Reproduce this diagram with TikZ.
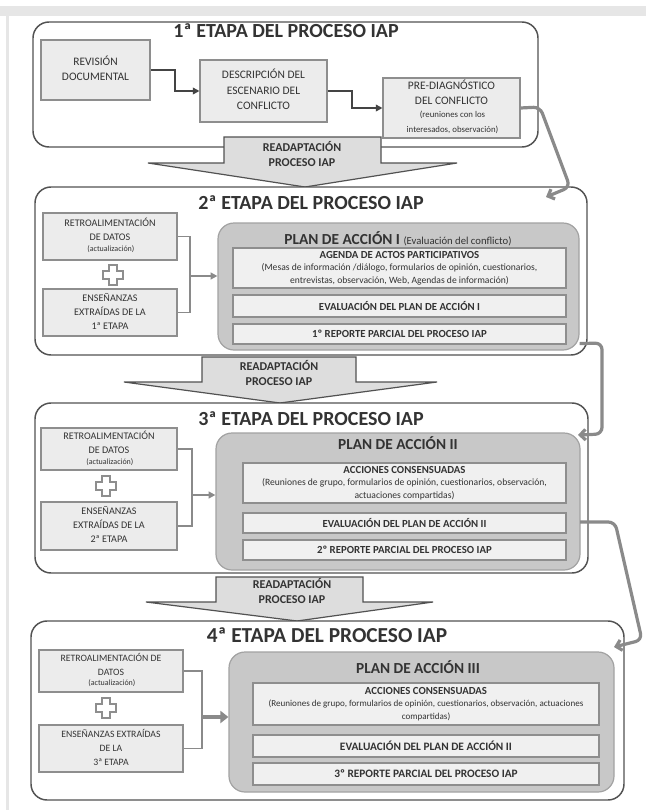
\documentclass[tikz,border=0pt]{standalone}
\usepackage{fontspec}
\setmainfont{Carlito}
\usetikzlibrary{arrows.meta,fit,calc}
\definecolor{stageline}{HTML}{525252}
\definecolor{boxfill}{HTML}{ECECEC}
\definecolor{boxline}{HTML}{8E8E8E}
\definecolor{planfill}{HTML}{C8C8C8}
\definecolor{planline}{HTML}{A2A2A2}
\definecolor{subfill}{HTML}{F0F0F0}
\definecolor{conn}{HTML}{8A8A8A}
\definecolor{flowline}{HTML}{444444}
\definecolor{txt}{HTML}{333333}
\definecolor{arrowfill}{HTML}{DDDDDD}
\definecolor{framegray}{HTML}{E6E6E6}
\newcommand{\fsz}[2]{\fontsize{#1}{#2}\selectfont}
\newcommand{\stk}[1]{\begin{tabular}{@{}c@{}}#1\end{tabular}}
\begin{document}
\begin{tikzpicture}[x=0.75pt,y=-0.75pt,
  every node/.style={text=txt},
  stagebox/.style={draw=stageline, line width=1.1pt, rounded corners=12pt, fill=white, inner sep=0pt},
  smallbox/.style={draw=boxline, line width=0.8pt, fill=boxfill, inner sep=0pt},
  planbox/.style={draw=planline, line width=0.9pt, fill=planfill, rounded corners=12pt, inner sep=0pt},
  subbox/.style={draw=boxline, line width=0.8pt, fill=subfill, inner sep=0pt},
  boxtext/.style={inner sep=0pt, font=\fsz{7.6}{10.4}},
  bigboxtext/.style={inner sep=0pt, font=\fsz{8.6}{11.6}},
  subtext/.style={inner sep=0pt, font=\fsz{8.1}{10}\bfseries},
  stagetitle/.style={font=\fsz{15}{18}\bfseries, inner sep=0pt, anchor=base},
  plantitle/.style={font=\fsz{11.5}{13}\bfseries, inner sep=0pt, anchor=base},
  flow/.style={draw=flowline, line width=1.5pt, -{Triangle[length=5pt,width=5pt]}},
  link/.style={draw=conn, line width=2.4pt, rounded corners=5pt, -{Straight Barb[length=4pt,width=8pt]}},
  bracket/.style={draw=conn, line width=1.3pt},
  bracketarrow/.style={draw=conn, line width=1.3pt, -{Triangle[length=5pt,width=5pt]}},
  blockarrow/.style={draw=stageline, line width=0.9pt, fill=arrowfill},
  arrowtext/.style={font=\fsz{9}{11}\bfseries, inner sep=0pt},
  plusshape/.style={draw=boxline, line width=0.9pt, fill=white},
]
\useasboundingbox (0,0) rectangle (646,810);
\fill[white] (0,0) rectangle (646,810);
\fill[framegray] (0,6) rectangle (646,16);
\fill[framegray] (6,16) rectangle (9,810);

% ---------- Stage 1 ----------
\node[stagebox, fit={(33,22)(538,147)}] (s1) {};
\node[stagetitle] (t1) at (286,37) {1ª ETAPA DEL PROCESO IAP};
\node[smallbox, fit={(41,40)(150,100)}] (rev) {};
\node[bigboxtext] (rev-t) at (rev.center) {\stk{REVISIÓN\\DOCUMENTAL}};
\node[smallbox, fit={(200,60)(327,122)}] (desc) {};
\node[bigboxtext] (desc-t) at (desc.center) {\stk{DESCRIPCIÓN DEL\\ESCENARIO DEL\\CONFLICTO}};
\node[smallbox, fit={(383,78)(520,138)}] (pre) {};
\node[bigboxtext] (pre-t) at (pre.center) {\stk{PRE-DIAGNÓSTICO\\DEL CONFLICTO\\[-2pt]\fsz{6.6}{8.4} (reuniones con los\\\fsz{6.6}{8.4} interesados, observación)}};
\draw[flow] (rev.east) -- (175,70) |- (desc.west);
\draw[flow] (desc.east) -- (352,91) |- (pre.west);

\draw[blockarrow] (224,137) -- (381,137) -- (381,163) -- (457,163) -- (305,187) -- (148,163) -- (224,163) -- cycle;
\node[arrowtext] (r1) at (302,156) {\stk{READAPTACIÓN\\PROCESO IAP}};

% ---------- Stage 2 ----------
\node[stagebox, fit={(35,187)(587,355)}] (s2) {};
\node[stagetitle] (t2) at (311,209) {2ª ETAPA DEL PROCESO IAP};
\node[smallbox, fit={(43,213)(177,260)}] (retro2) {};
\node[boxtext] (retro2-t) at (retro2.center) {\stk{RETROALIMENTACIÓN\\DE DATOS\\[-2pt]\fsz{6}{8} (actualización)}};
\node[smallbox, fit={(43,289)(177,336)}] (ens2) {};
\node[boxtext] (ens2-t) at (ens2.center) {\stk{ENSEÑANZAS\\EXTRAÍDAS DE LA\\1ª ETAPA}};
\draw[plusshape, shift={(113,275)}] (-4,-10) -- (4,-10) -- (4,-4) -- (10,-4) -- (10,4) -- (4,4) -- (4,10) -- (-4,10) -- (-4,4) -- (-10,4) -- (-10,-4) -- (-4,-4) -- cycle;
\node[planbox, fit={(218,223)(579,350)}] (plan2) {};
\node[inner sep=0pt, anchor=base] (pt2) at (398,244) {\fsz{11.5}{13}\bfseries PLAN DE ACCIÓN I \fsz{8}{9}\mdseries (Evaluación del conflicto)};
\node[subbox, fit={(233,248)(566,288)}] (ag2) {};
\node[subtext] (ag2-t) at (ag2.center) {\stk{AGENDA DE ACTOS PARTICIPATIVOS\\[-1pt]\fsz{7.2}{8.4}\mdseries (Mesas de información /diálogo, formularios de opinión, cuestionarios,\\\fsz{7.2}{8.4}\mdseries entrevistas, observación, Web, Agendas de información)}};
\node[subbox, fit={(233,295)(566,317)}] (ev2) {};
\node[subtext] (ev2-t) at (ev2.center) {EVALUACIÓN DEL PLAN DE ACCIÓN I};
\node[subbox, fit={(233,324)(566,344)}] (rp2) {};
\node[subtext] (rp2-t) at (rp2.center) {1º REPORTE PARCIAL DEL PROCESO IAP};
\coordinate (j2) at (190,276);
\draw[bracket] (retro2.east) -| (j2) |- (ens2.east);
\draw[bracketarrow] (j2) -- (plan2.west |- j2);

\draw[blockarrow] (202,357) -- (356,357) -- (356,382) -- (437,382) -- (280,403) -- (124,382) -- (202,382) -- cycle;
\node[arrowtext] (r2) at (279,375) {\stk{READAPTACIÓN\\PROCESO IAP}};

% ---------- Stage 3 ----------
\node[stagebox, fit={(35,403)(588,573)}] (s3) {};
\node[stagetitle] (t3) at (311,425) {3ª ETAPA DEL PROCESO IAP};
\node[smallbox, fit={(41,428)(177,470)}] (retro3) {};
\node[boxtext] (retro3-t) at (retro3.center) {\stk{RETROALIMENTACIÓN\\DE DATOS\\[-2pt]\fsz{6}{8} (actualización)}};
\node[smallbox, fit={(41,502)(177,550)}] (ens3) {};
\node[boxtext] (ens3-t) at (ens3.center) {\stk{ENSEÑANZAS\\EXTRAÍDAS DE LA\\2ª ETAPA}};
\draw[plusshape, shift={(106,486)}] (-4,-10) -- (4,-10) -- (4,-4) -- (10,-4) -- (10,4) -- (4,4) -- (4,10) -- (-4,10) -- (-4,4) -- (-10,4) -- (-10,-4) -- (-4,-4) -- cycle;
\node[planbox, fit={(216,433)(580,570)}] (plan3) {};
\node[plantitle] (pt3) at (398,449) {PLAN DE ACCIÓN II};
\node[subbox, fit={(243,463)(566,503)}] (ac3) {};
\node[subtext] (ac3-t) at (ac3.center) {\stk{ACCIONES CONSENSUADAS\\[-1pt]\fsz{7.2}{8.4}\mdseries (Reuniones de grupo, formularios de opinión, cuestionarios, observación,\\\fsz{7.2}{8.4}\mdseries actuaciones compartidas)}};
\node[subbox, fit={(243,513)(566,533)}] (ev3) {};
\node[subtext] (ev3-t) at (ev3.center) {EVALUACIÓN DEL PLAN DE ACCIÓN II};
\node[subbox, fit={(243,540)(566,560)}] (rp3) {};
\node[subtext] (rp3-t) at (rp3.center) {2º REPORTE PARCIAL DEL PROCESO IAP};
\coordinate (j3) at (192,495);
\draw[bracket] (retro3.east) -| (j3) |- (ens3.east);
\draw[bracketarrow] (j3) -- (plan3.west |- j3);

\draw[blockarrow] (216,577) -- (363,577) -- (363,602) -- (433,602) -- (297,621) -- (146,602) -- (216,602) -- cycle;
\node[arrowtext] (r3) at (292,593) {\stk{READAPTACIÓN\\PROCESO IAP}};

% ---------- Stage 4 ----------
\node[stagebox, fit={(31,621)(624,800)}] (s4) {};
\node[stagetitle, font=\fsz{16}{19}\bfseries] (t4) at (327,642) {4ª ETAPA DEL PROCESO IAP};
\node[smallbox, fit={(39,650)(183,692)}] (retro4) {};
\node[boxtext, font=\fsz{7.3}{10}] (retro4-t) at (retro4.center) {\stk{RETROALIMENTACIÓN DE\\DATOS\\[-2pt]\fsz{6}{8} (actualización)}};
\node[smallbox, fit={(39,725)(183,772)}] (ens4) {};
\node[boxtext, font=\fsz{7.3}{10.4}] (ens4-t) at (ens4.center) {\stk{ENSEÑANZAS EXTRAÍDAS\\DE LA\\3ª ETAPA}};
\draw[plusshape, shift={(106,708)}] (-4,-10) -- (4,-10) -- (4,-4) -- (10,-4) -- (10,4) -- (4,4) -- (4,10) -- (-4,10) -- (-4,4) -- (-10,4) -- (-10,-4) -- (-4,-4) -- cycle;
\node[planbox, fit={(229,652)(614,792)}] (plan4) {};
\node[plantitle] (pt4) at (418,673) {PLAN DE ACCIÓN III};
\node[subbox, fit={(253,683)(599,725)}] (ac4) {};
\node[subtext] (ac4-t) at (ac4.center) {\stk{ACCIONES CONSENSUADAS\\[-1pt]\fsz{6.8}{8.2}\mdseries (Reuniones de grupo, formularios de opinión, cuestionarios, observación, actuaciones\\\fsz{6.8}{8.2}\mdseries compartidas)}};
\node[subbox, fit={(253,735)(599,757)}] (ev4) {};
\node[subtext, font=\fsz{8.5}{10}\bfseries] (ev4-t) at (ev4.center) {EVALUACIÓN DEL PLAN DE ACCIÓN II};
\node[subbox, fit={(253,763)(599,785)}] (rp4) {};
\node[subtext, font=\fsz{8.5}{10}\bfseries] (rp4-t) at (rp4.center) {3º REPORTE PARCIAL DEL PROCESO IAP};
\coordinate (j4) at (202,717);
\draw[bracket] (retro4.east) -| (j4) |- (ens4.east);
\draw[bracketarrow, line width=3pt, -{Triangle[length=6pt,width=9pt]}] (j4) -- (plan4.west |- j4);

% ---------- Connectors between stages ----------
\coordinate (c1end) at (546,197);
\draw[link] (pre.east) -- (540,107) -- (570,187) -- (c1end);
\coordinate (c2start) at ($(plan2.south east)+(0,-7)$);
\coordinate (c2end) at (578,435);
\draw[link] (c2start) -- (602,343) -- (602,434) -- (c2end);
\coordinate (c3start) at (580,522);
\coordinate (c3end) at (614,647);
\draw[link] (c3start) -- (615,522) -- (642,640) -- (c3end);
\end{tikzpicture}
\end{document}
